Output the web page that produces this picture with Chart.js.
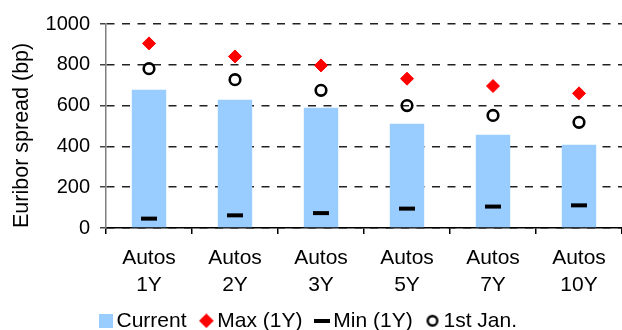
<!DOCTYPE html>
<html>
<head>
<meta charset="utf-8">
<script src="https://cdn.jsdelivr.net/npm/chart.js@4.4.0/dist/chart.umd.min.js"></script>
<style>
html, body { margin: 0; padding: 0; background: #ffffff; }
#holder { width: 622px; height: 330px; position: relative; }
canvas { display: block; }
</style>
</head>
<body>
<div id="holder"><canvas id="c" width="622" height="330"></canvas></div>
<script>
// ---- data ----
const categories = [["Autos", "1Y"], ["Autos", "2Y"], ["Autos", "3Y"], ["Autos", "5Y"], ["Autos", "7Y"], ["Autos", "10Y"]];
const currentValues = [678, 629, 590, 511, 457, 408];
const maxValues = [905, 841, 797, 732, 696, 660];
const minValues = [46, 62, 73, 95, 105, 111];
const janValues = [781, 727, 675, 600, 552, 518];
const seriesNames = ["Current", "Max (1Y)", "Min (1Y)", "1st Jan."];
const yMin = 0, yMax = 1000, yStep = 200;
const yTitle = "Euribor spread (bp)";

// ---- styles ----
const FONT = "'Liberation Sans', Arial, sans-serif";
const BAR_COLOR = "#99CCFF";
const MAX_COLOR = "#FF0000";

Chart.defaults.font.family = FONT;
Chart.defaults.color = '#000';

function mkCanvas(w, h, draw) {
  const c = document.createElement('canvas');
  c.width = w; c.height = h;
  draw(c.getContext('2d'));
  return c;
}
const legendImgs = [
  mkCanvas(14, 14, g => { g.fillStyle = BAR_COLOR; g.fillRect(0, 0, 14, 14); }),
  mkCanvas(15, 15, g => { g.fillStyle = MAX_COLOR; g.translate(7.5, 7.5); g.rotate(Math.PI / 4); g.fillRect(-5.2, -5.2, 10.4, 10.4); }),
  mkCanvas(16, 4, g => { g.fillStyle = '#000'; g.fillRect(0, 0, 16, 4); }),
  mkCanvas(14, 14, g => { g.strokeStyle = '#000'; g.lineWidth = 2.4; g.beginPath(); g.arc(7, 7, 4.8, 0, Math.PI * 2); g.stroke(); })
];

const legendFix = {
  id: 'legendFix',
  afterInit(chart) {
    const lg = chart.legend;
    const f = lg.fit.bind(lg);
    lg.fit = function () { f(); this.height = 39; };
  }
};

new Chart(document.getElementById('c'), {
  type: 'bar',
  data: {
    labels: categories,
    datasets: [
      { type: 'bar', label: seriesNames[0], data: currentValues, backgroundColor: BAR_COLOR, borderWidth: 0,
        barPercentage: 0.4, categoryPercentage: 1, order: 1 },
      { type: 'line', label: seriesNames[1], data: maxValues, showLine: false, pointStyle: 'rectRot', pointRadius: 6.5,
        pointBackgroundColor: MAX_COLOR, pointBorderColor: MAX_COLOR, pointBorderWidth: 1, order: 0 },
      { type: 'line', label: seriesNames[2], data: minValues, showLine: false, pointStyle: 'line', pointRadius: 8,
        pointBorderColor: '#000', pointBorderWidth: 4, order: 0 },
      { type: 'line', label: seriesNames[3], data: janValues, showLine: false, pointStyle: 'circle', pointRadius: 5.3,
        pointBackgroundColor: 'rgba(0,0,0,0)', pointBorderColor: '#000', pointBorderWidth: 2.6, order: 0 }
    ]
  },
  options: {
    responsive: false,
    animation: false,
    devicePixelRatio: 1,
    events: [],
    layout: { autoPadding: false, padding: { top: 24, left: 0, right: 0, bottom: 0 } },
    plugins: {
      tooltip: { enabled: false },
      legend: {
        display: true,
        position: 'bottom',
        labels: {
          usePointStyle: true,
          boxWidth: 1,
          boxHeight: 1,
          padding: 19.3,
          color: '#000',
          font: { family: FONT, size: 21 },
          generateLabels: () => seriesNames.map((t, i) => ({
            text: t, pointStyle: legendImgs[i], fillStyle: '#000', strokeStyle: '#000', lineWidth: 0,
            hidden: false, datasetIndex: i, fontColor: '#000'
          }))
        }
      }
    },
    scales: {
      x: {
        offset: true,
        grid: { display: true, offset: true, drawOnChartArea: false, drawTicks: true, tickLength: 6, color: '#000', lineWidth: 1.5 },
        border: { display: true, color: '#000', width: 1.5 },
        ticks: { color: '#000', font: { family: FONT, size: 21, lineHeight: 1.286 }, padding: 11, maxRotation: 0, autoSkip: false },
        afterFit: s => { s.height = 63; }
      },
      y: {
        type: 'linear',
        min: yMin, max: yMax,
        ticks: { stepSize: yStep, color: '#000', font: { family: FONT, size: 20 }, padding: 10, callback: v => String(v) },
        grid: { display: true, drawOnChartArea: true, drawTicks: true, color: '#222', lineWidth: 1.5, tickLength: 6, tickColor: '#444', tickWidth: 1.5, tickBorderDash: [] },
        border: { display: true, color: '#808080', width: 1.5, dash: [8, 7.5] },
        title: { display: true, text: yTitle, align: 'start', color: '#000', font: { family: FONT, size: 21.5 }, padding: { top: 9, bottom: 0 } },
        afterFit: s => { s.width = 106; }
      }
    }
  },
  plugins: [legendFix]
});
</script>
</body>
</html>
